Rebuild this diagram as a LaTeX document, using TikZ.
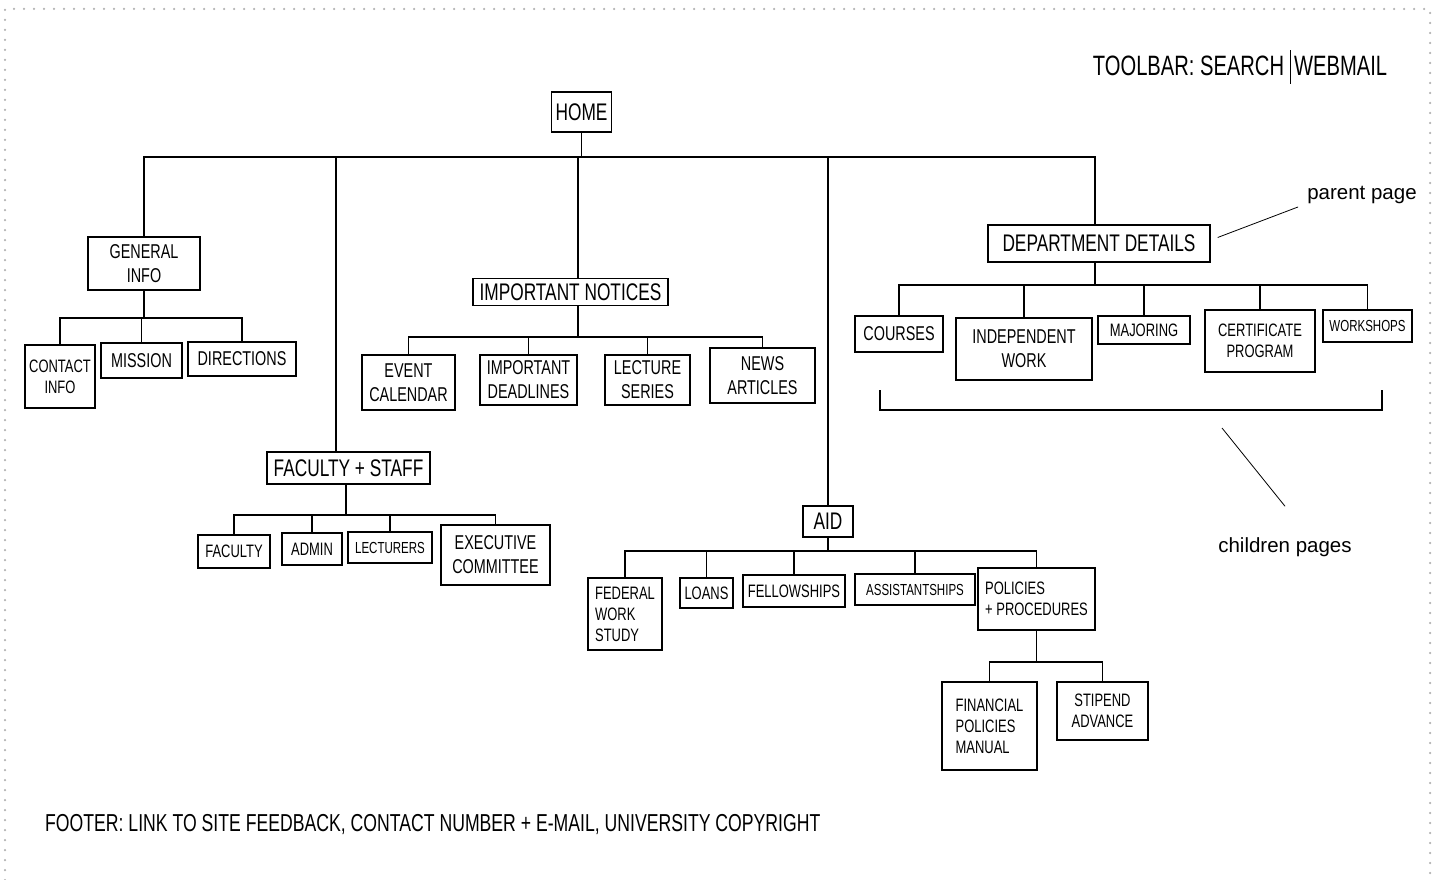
\documentclass[tikz,border=0pt]{standalone}
\usepackage{fontspec}
\setmainfont{Liberation Sans}
\newfontfamily\hand{Liberation Sans}[FakeStretch=0.72]
\usepackage{tikz}

\begin{document}
\begin{tikzpicture}[x=1pt,y=-1pt,
    page/.style={draw,line width=1.3pt,align=center,inner xsep=4pt,inner ysep=3pt,font=\hand\fontsize{20}{24}\selectfont},
    big/.style={font=\hand\fontsize{24}{28}\selectfont},
    sml/.style={font=\hand\fontsize{18}{21}\selectfont},
    tny/.style={font=\hand\fontsize{16}{19}\selectfont},
    link/.style={line width=1.3pt},
    note/.style={font=\fontsize{20.5}{24}\selectfont,inner sep=0pt}]
    \useasboundingbox (0,0) rectangle (1435,880);
    \draw[gray!60,line width=2.5pt,dash pattern=on 0pt off 10pt,line cap=round] (5,880) -- (5,9) -- (1430,9) -- (1430,880);

    % top level
    \node[page,big,minimum width=60pt,minimum height=40pt](home) at (581.5,112){HOME};
    \node[font=\hand\fontsize{28}{32}\selectfont,inner sep=0pt](tbar) at (1240,67){TOOLBAR: SEARCH\hspace{6pt}\vrule width 1pt height 26pt depth 8pt\hspace{3pt}WEBMAIL};
    \coordinate (hbus) at (581.5,157);

    % general info
    \node[page,minimum width=112pt,minimum height=53pt](gen) at (144,263.5){GENERAL\\INFO};
    \node[page,sml,minimum width=70pt,minimum height=63pt](con) at (60,376.5){CONTACT\\INFO};
    \node[page,minimum width=81pt,minimum height=35pt](mis) at (141.5,360.5){MISSION};
    \node[page,minimum width=108pt,minimum height=34pt](dir) at (242,359){DIRECTIONS};
    \coordinate (gbus) at (144,318);

    % important notices
    \node[page,big,minimum width=195pt,minimum height=27pt](imp) at (570.5,292){IMPORTANT NOTICES};
    \node[page,minimum width=93pt,minimum height=55pt](evt) at (408.5,382.5){EVENT\\CALENDAR};
    \node[page,minimum width=97pt,minimum height=50pt](ddl) at (528.5,380){IMPORTANT\\DEADLINES};
    \node[page,minimum width=85pt,minimum height=50pt](lec) at (647.5,380){LECTURE\\SERIES};
    \node[page,minimum width=105pt,minimum height=55pt](nws) at (762.5,375.5){NEWS\\ARTICLES};
    \coordinate (ibus) at (578,337);

    % faculty + staff
    \node[page,big,minimum width=163pt,minimum height=32pt](fst) at (348.5,468){FACULTY + STAFF};
    \node[page,sml,minimum width=72pt,minimum height=33pt](fac) at (234,551.5){FACULTY};
    \node[page,sml,minimum width=60pt,minimum height=32pt](adm) at (312,549){ADMIN};
    \node[page,tny,minimum width=84pt,minimum height=31pt](ltr) at (390,547.5){LECTURERS};
    \node[page,minimum width=109pt,minimum height=60pt](exe) at (495.5,555){EXECUTIVE\\COMMITTEE};
    \coordinate (fbus) at (346,515);
    \coordinate (fdrop) at (336,157);

    % aid
    \node[page,big,minimum width=50pt,minimum height=31pt](aid) at (828,521.5){AID};
    \node[page,sml,align=left,minimum width=74pt,minimum height=72pt](fed) at (625,614){FEDERAL\\WORK\\STUDY};
    \node[page,sml,minimum width=53pt,minimum height=30pt](lns) at (706.5,593){LOANS};
    \node[page,sml,minimum width=102pt,minimum height=32pt](fel) at (794,591){FELLOWSHIPS};
    \node[page,tny,minimum width=120pt,minimum height=31pt](ass) at (915,589.5){ASSISTANTSHIPS};
    \node[page,sml,align=left,minimum width=117pt,minimum height=62pt](pol) at (1036.5,599){POLICIES\\+ PROCEDURES};
    \node[page,sml,align=left,minimum width=95pt,minimum height=88pt](fin) at (989.5,726){FINANCIAL\\POLICIES\\MANUAL};
    \node[page,sml,minimum width=91pt,minimum height=58pt](sti) at (1102.5,711){STIPEND\\ADVANCE};
    \coordinate (abus) at (828,551);
    \coordinate (pbus) at (1036.5,662);

    % department details
    \node[page,big,minimum width=222pt,minimum height=37pt](dep) at (1099,243.5){DEPARTMENT DETAILS};
    \node[page,minimum width=88pt,minimum height=36pt](crs) at (899,334){COURSES};
    \node[page,minimum width=136pt,minimum height=62pt](ind) at (1024,349){INDEPENDENT\\WORK};
    \node[page,sml,minimum width=92pt,minimum height=28pt](maj) at (1144,330){MAJORING};
    \node[page,sml,minimum width=110pt,minimum height=62pt](cer) at (1260,341){CERTIFICATE\\PROGRAM};
    \node[page,tny,minimum width=89pt,minimum height=32pt](wsh) at (1367.5,326){WORKSHOPS};
    \coordinate (dbus) at (1095,285);

    \path[draw,link]
    (home) -- (hbus)
    (gen) -- (gbus)
    (imp.south -| ibus) -- (ibus)
    (fst.south -| fbus) -- (fbus)
    (aid) -- (abus)
    (pol) -- (pbus)
    (dep.south -| dbus) -- (dbus);
    \foreach \c in {gen,aid} \draw[link] (\c.north) |- (hbus);
    \draw[link] (imp.north -| ibus) |- (hbus);
    \draw[link] (fst.north -| fdrop) -- (fdrop) -- (hbus);
    \draw[link] (dep.north -| dbus) |- (hbus);
    \foreach \c in {con,mis,dir} \draw[link] (\c.north) |- (gbus);
    \foreach \c in {evt,ddl,lec,nws} \draw[link] (\c.north) |- (ibus);
    \foreach \c in {fac,adm,ltr,exe} \draw[link] (\c.north) |- (fbus);
    \foreach \c in {fed,lns,fel,ass,pol} \draw[link] (\c.north) |- (abus);
    \foreach \c in {fin,sti} \draw[link] (\c.north) |- (pbus);
    \foreach \c in {crs,ind,maj,cer,wsh} \draw[link] (\c.north) |- (dbus);

    % notes
    \node[note](ppage) at (1362,195){parent page};
    \node[note](cpage) at (1285,547){children pages};
    \draw[line width=0.8pt] ([xshift=7pt,yshift=6pt]dep.east) -- ([xshift=-9pt,yshift=-3pt]ppage.south west);
    \coordinate (brl) at (880,390);
    \coordinate (brr) at (1382,390);
    \draw[link] (brl) -- ++(0,20) -| (brr);
    \coordinate (brtip) at (1222,428);
    \draw[line width=0.8pt] (brtip) -- ([yshift=31pt]cpage.north);

    \node[anchor=west,inner sep=0pt,font=\hand\fontsize{24.5}{28}\selectfont](foot) at (45,825){FOOTER: LINK TO SITE FEEDBACK, CONTACT NUMBER + E-MAIL, UNIVERSITY COPYRIGHT};
\end{tikzpicture}
\end{document}
